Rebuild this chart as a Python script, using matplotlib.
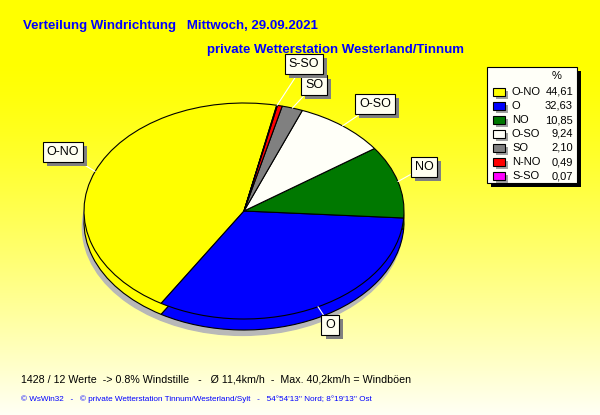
import numpy as np
import matplotlib
matplotlib.use('Agg')
import matplotlib.pyplot as plt
from matplotlib.patches import Ellipse, Rectangle
import matplotlib.patheffects as pe

plt.rcParams['font.family'] = ['Liberation Sans', 'DejaVu Sans']

# data
directions = ['O-NO', 'O', 'NO', 'O-SO', 'SO', 'N-NO', 'S-SO']
percent = [44.61, 32.63, 10.85, 9.24, 2.10, 0.49, 0.07]
colors = ['#FFFF00', '#0000FF', '#007800', '#FFFFF8', '#808080', '#FF0000', '#FF00FF']
percent_labels = ['44,61', '32,63', '10,85', '9,24', '2,10', '0,49', '0,07']

title1 = 'Verteilung Windrichtung   Mittwoch, 29.09.2021'
title2 = 'private Wetterstation Westerland/Tinnum'
footer1 = '1428 / 12 Werte  -> 0.8% Windstille   -   \u00d8 11,4km/h  -  Max. 40,2km/h = Windb\u00f6en'
footer2 = "\u00a9 WsWin32   -   \u00a9 private Wetterstation Tinnum/Westerland/Sylt   -   54\u00b054'13'' Nord; 8\u00b019'13'' Ost"

# label boxes in pixel positions (x, y from top)
label_pos = {'O-NO': (63, 152), 'S-SO': (304, 64), 'SO': (314, 85),
             'O-SO': (375, 104), 'NO': (424, 167), 'O': (330, 325)}

W, H = 600, 415
fig = plt.figure(figsize=(6, 4.15), dpi=100)

# background gradient: yellow at top, pale at bottom
bg = fig.add_axes([0, 0, 1, 1])
t = np.linspace(0, 1, 256)
blend = np.clip((t - 0.15) / 0.85, 0, 1) ** 1.3
grad = np.zeros((256, 1, 3))
grad[:, 0, 0] = 1.0
grad[:, 0, 1] = 1.0
grad[:, 0, 2] = 0.96 * blend
bg.imshow(grad, aspect='auto', extent=[0, 1, 0, 1], origin='upper')
bg.set_axis_off()

# pie axes over the whole figure: 1 data unit = 160 px across, 108 px down
cx, cy, a, b = 244, 211, 160, 108
depth = 11 / b
ax = fig.add_axes([0, 0, 1, 1])
ax.patch.set_alpha(0)

start = 78.2
# drop shadow under the pie
ax.add_patch(Ellipse((-0.01, -depth - 0.05), 2.0, 2.0, color='#B8B8B8', zorder=0))
# side of the pie (copy shifted down)
ax.pie(percent, colors=colors, startangle=start, counterclock=True, radius=1,
       center=(0, -depth), frame=True,
       wedgeprops=dict(edgecolor='black', linewidth=0.8))
wedges, _ = ax.pie(percent, colors=colors, startangle=start, counterclock=True, radius=1,
                   center=(0, 0), frame=True,
                   wedgeprops=dict(edgecolor='black', linewidth=0.8))
ax.set_aspect('auto')
ax.set_xlim(-cx / a, (W - cx) / a)
ax.set_ylim((cy - H) / b, cy / b)
ax.set_axis_off()

shadow = [pe.withSimplePatchShadow(offset=(3, -3), shadow_rgbFace='#808080', alpha=1.0)]

# labels with white leader lines
for name, w in zip(directions, wedges):
    if name not in label_pos:
        continue
    ang = np.deg2rad((w.theta1 + w.theta2) / 2)
    px, py = label_pos[name]
    xy = (np.cos(ang), np.sin(ang))
    ax.annotate('', xy=xy, xytext=(px, H - py), textcoords='figure pixels',
                arrowprops=dict(arrowstyle='-', color='white', lw=0.8, shrinkA=0, shrinkB=0))
    txt = ax.annotate(name, xy=xy, xytext=(px, H - py), textcoords='figure pixels',
                      ha='center', va='center', fontsize=9, color='black',
                      bbox=dict(boxstyle='square,pad=0.3', fc='#FFFFF0', ec='black', lw=0.8))
    txt.get_bbox_patch().set_path_effects(shadow)

# titles
fig.text(23 / W, 1 - 26 / H, title1, color='#0000FF', fontsize=9.5, fontweight='bold', va='center')
fig.text(207 / W, 1 - 50 / H, title2, color='#0000FF', fontsize=9.5, fontweight='bold', va='center')

# legend box
def fx(x):
    return x / W

def fy(y):
    return 1 - y / H

fig.patches.append(Rectangle((fx(491), fy(187)), 90 / W, 116 / H, transform=fig.transFigure,
                             fc='black', ec='none'))
fig.patches.append(Rectangle((fx(487), fy(183)), 90 / W, 116 / H, transform=fig.transFigure,
                             fc='#FFFFF8', ec='black', lw=0.8))
fig.text(fx(557), fy(76), '%', fontsize=8, ha='center', va='center')
for i, (name, col, val) in enumerate(zip(directions, colors, percent_labels)):
    yy = 92 + i * 14
    fig.patches.append(Rectangle((fx(496), fy(yy + 7)), 12 / W, 8 / H, transform=fig.transFigure,
                                 fc='#A0A0A0', ec='none'))
    fig.patches.append(Rectangle((fx(493), fy(yy + 4)), 12 / W, 8 / H, transform=fig.transFigure,
                                 fc=col, ec='black', lw=0.8))
    fig.text(fx(512), fy(yy), name, fontsize=8, va='center')
    fig.text(fx(573), fy(yy), val, fontsize=8, va='center', ha='right')

# footer
fig.text(fx(21), fy(380), footer1, fontsize=7.7, va='center')
fig.text(fx(21), fy(399), footer2, fontsize=5.85, color='#0000FF', va='center')

fig.savefig('out.png', dpi=100)
